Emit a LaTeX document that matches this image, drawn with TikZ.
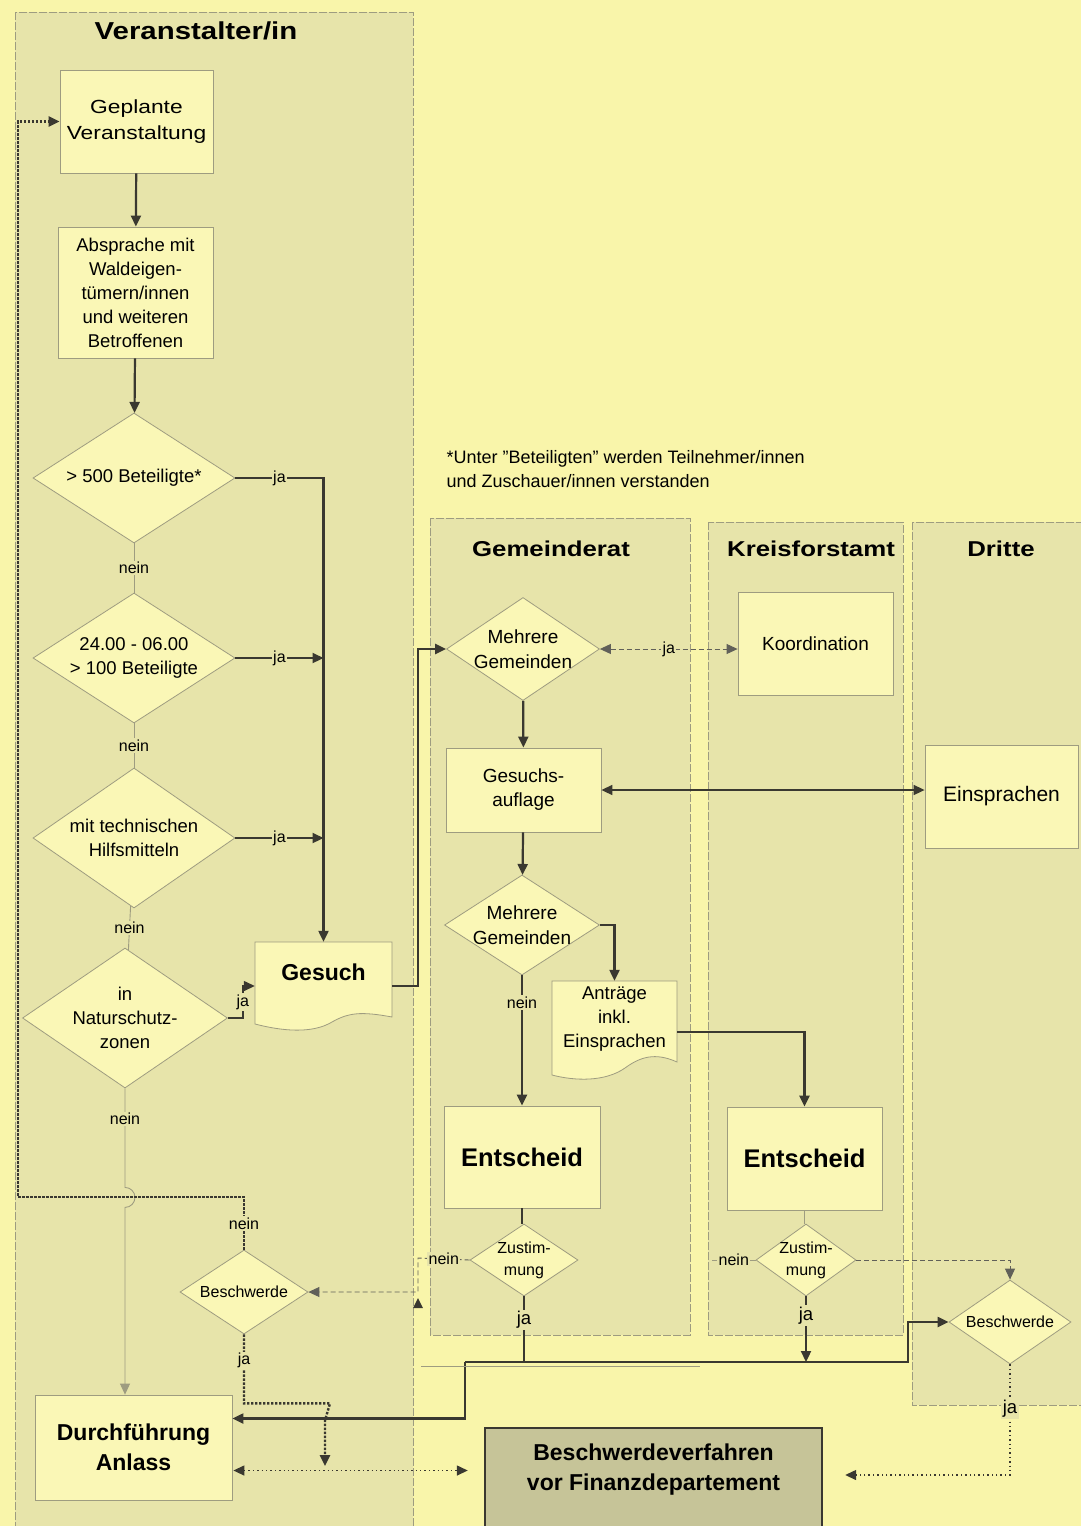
\documentclass[tikz,border=0pt]{standalone}
\usepackage{fontspec}
\setmainfont{Liberation Sans}
\newfontfamily\widesans{Liberation Sans}[FakeStretch=1.2]
\usetikzlibrary{arrows.meta,shapes.geometric,calc}

\definecolor{paper}{RGB}{249,245,170}
\definecolor{lanecol}{RGB}{231,228,170}
\definecolor{boxcol}{RGB}{250,247,182}
\definecolor{ink}{RGB}{58,56,48}
\definecolor{frame}{RGB}{158,156,128}
\definecolor{greybox}{RGB}{198,196,152}

\begin{document}
\begin{tikzpicture}[x=1pt,y=-1pt,
    txt/.style={font=\fontsize{18.5}{24}\selectfont, align=center},
    smalltxt/.style={font=\fontsize{16}{22}\selectfont, align=center},
    boldtxt/.style={font=\fontsize{23}{30}\bfseries\selectfont, align=center},
    lanetitle/.style={font=\widesans\fontsize{21.5}{26}\bfseries\selectfont},
    procbox/.style={rectangle, draw=frame, line width=0.8pt, fill=boxcol, inner sep=0pt, txt},
    decbox/.style={diamond, draw=frame, line width=0.8pt, fill=boxcol, shape aspect=1.5, inner sep=-4pt, txt},
    lane/.style={fill=lanecol, draw=frame, line width=0.7pt, dash pattern=on 8pt off 2pt},
    lbl/.style={smalltxt, fill=lanecol, inner sep=1.5pt},
    arrowend/.style={-{Triangle[length=11pt,width=10pt]}},
    bothends/.style={{Triangle[length=11pt,width=10pt]}-{Triangle[length=11pt,width=10pt]}},
    flow/.style={draw=ink, line width=2.2pt, arrowend},
    thickline/.style={draw=ink, line width=2.2pt},
    midline/.style={draw=ink, line width=1.6pt},
    weak/.style={draw=frame, line width=0.9pt},
    dashline/.style={draw=ink!80, line width=0.9pt, dash pattern=on 5pt off 3pt},
    dotline/.style={draw=ink, line width=2.4pt, dash pattern=on 2.4pt off 1.6pt},
    finedots/.style={draw=ink, line width=1.4pt, dash pattern=on 1.4pt off 3pt},
  ]
  \useasboundingbox (0,0) rectangle (1081,1526);
  \fill[paper] (0,0) rectangle (1081,1526);

  % Lanes
  \foreach \xa/\ya/\xb/\yb in {15/12/413/1540, 430/518/690/1335, 708/522/903/1335, 912/522/1090/1405}
    \draw[lane] (\xa,\ya) rectangle (\xb,\yb);

  % Lane titles
  \node[lanetitle, font=\widesans\fontsize{24.5}{28}\bfseries\selectfont] (tV) at (196,31) {Veranstalter/in};
  \node[lanetitle] (tG) at (551,549) {Gemeinderat};
  \node[lanetitle] (tK) at (811,549) {Kreisforstamt};
  \node[lanetitle] (tD) at (1001,549) {Dritte};

  % Footnote
  \node[anchor=west, align=left, font=\fontsize{18}{24}\selectfont] (note) at (443,469)
    {*Unter "Beteiligten" werden Teilnehmer/innen\\und Zuschauer/innen verstanden};

  % Veranstalter/in
  \node[procbox, minimum width=153pt, minimum height=103pt, font=\widesans\fontsize{19}{26}\selectfont] (geplant) at (136.5,121.5) {Geplante\\Veranstaltung};
  \node[procbox, minimum width=155pt, minimum height=131pt] (absprache) at (135.5,292.5)
    {Absprache mit\\Waldeigen-\\tümern/innen\\und weiteren\\Betroffenen};
  \node[decbox, minimum width=202pt, minimum height=130pt] (d500) at (134,478) {> 500 Beteiligte*};
  \node[decbox, minimum width=202pt, minimum height=130pt] (d100) at (134,658) {24.00 - 06.00\\> 100 Beteiligte};
  \node[decbox, minimum width=202pt, minimum height=140pt] (dtech) at (134,838) {mit technischen\\Hilfsmitteln};
  \node[decbox, minimum width=205pt, minimum height=140pt] (dnatur) at (125,1018) {in\\Naturschutz-\\zonen};

  % Gesuch (document)
  \draw[draw=frame, line width=0.8pt, fill=boxcol] (255,942) -- (392,942) -- (392,1017)
    .. controls (360,1011) and (348,1013) .. (332,1022)
    .. controls (312,1034) and (282,1031) .. (255,1024) -- cycle;
  \node[minimum width=137pt, minimum height=88pt, inner sep=0pt,
    label={[boldtxt, yshift=14pt]center:Gesuch}] (gesuch) at (323.5,986) {};

  \node[procbox, boldtxt, minimum width=197pt, minimum height=105pt] (durch) at (133.5,1447.5) {Durchführung\\Anlass};
  \node[decbox, smalltxt, minimum width=128pt, minimum height=84pt] (beschw1) at (244,1292) {Beschwerde};

  % Gemeinderat
  \node[decbox, font=\fontsize{19}{25}\selectfont, minimum width=153pt, minimum height=103pt] (mg1) at (523,649) {Mehrere\\Gemeinden};
  \node[procbox, font=\fontsize{19}{24}\selectfont, minimum width=155pt, minimum height=84pt] (gauf) at (523.5,790) {Gesuchs-\\auflage};
  \node[decbox, font=\fontsize{19}{25}\selectfont, minimum width=155pt, minimum height=100pt] (mg2) at (522,925) {Mehrere\\Gemeinden};

  % Antraege (document)
  \draw[draw=frame, line width=0.8pt, fill=boxcol] (552,981) -- (677,981) -- (677,1062)
    .. controls (655,1052) and (640,1057) .. (625,1068)
    .. controls (605,1082) and (575,1081) .. (552,1075) -- cycle;
  \node[minimum width=125pt, minimum height=102pt, inner sep=0pt,
    label={[txt, yshift=13pt]center:{Anträge\\inkl.\\Einsprachen}}] (antr) at (614.5,1032) {};

  \node[procbox, font=\fontsize{25.5}{30}\bfseries\selectfont, minimum width=156pt, minimum height=102pt] (entsch1) at (522,1157) {Entscheid};
  \node[decbox, smalltxt, minimum width=108pt, minimum height=72pt] (zust1) at (524,1260) {Zustim-\\mung};

  % Kreisforstamt
  \node[procbox, font=\fontsize{19}{24}\selectfont, minimum width=155pt, minimum height=103pt] (koord) at (815.5,643.5) {Koordination};
  \node[procbox, font=\fontsize{25.5}{30}\bfseries\selectfont, minimum width=155pt, minimum height=103pt] (entsch2) at (804.5,1158.5) {Entscheid};
  \node[decbox, smalltxt, minimum width=100pt, minimum height=72pt] (zust2) at (806,1260) {Zustim-\\mung};

  % Dritte
  \node[procbox, font=\fontsize{21}{24}\selectfont, minimum width=153pt, minimum height=103pt] (einspr) at (1001.5,796.5) {Einsprachen};
  \node[decbox, smalltxt, minimum width=122pt, minimum height=84pt] (beschw2) at (1010,1322) {Beschwerde};

  % Beschwerdeverfahren
  \node[rectangle, fill=greybox, draw=ink, line width=2.4pt, minimum width=337pt, minimum height=110pt, inner sep=0pt,
    label={[boldtxt, yshift=13pt]center:{Beschwerdeverfahren\\vor Finanzdepartement}}] (verf) at (653.5,1483) {};

  % Connectors Veranstalter/in
  \draw[flow] (geplant) -- (absprache);
  \draw[flow] (absprache) -- (d500);
  \draw[weak] (d500) -- node[lbl]{nein} (d100);
  \draw[weak] (d100) -- node[lbl]{nein} (dtech);
  \draw[weak] (dtech) -- node[lbl]{nein} (dnatur);
  \draw[weak, arrowend] (dnatur.south) -- node[lbl, pos=0.31]{nein} ++(0,99)
    arc[start angle=90, end angle=-90, radius=10pt] -- (dnatur.south |- durch.north);

  \draw[flow] (d500.east) -- node[lbl]{ja} (d500.east -| gesuch.north) -- (gesuch.north);
  \draw[flow] (d100.east) -- node[lbl]{ja} (d100.east -| gesuch.north);
  \draw[flow] (dtech.east) -- node[lbl]{ja} (dtech.east -| gesuch.north);
  \draw[flow, line width=1.4pt] (dnatur.east) -| node[lbl, pos=0.75]{ja} ([xshift=-12pt]gesuch.west) -- (gesuch.west);
  \draw[flow] (gesuch.east) -| ([xshift=-28pt]mg1.west) -- (mg1.west);

  % Connectors Gemeinderat / Kreisforstamt / Dritte
  \draw[dashline, bothends] (mg1.east) -- node[lbl]{ja} (koord.west |- mg1.east);
  \draw[flow] (mg1) -- (gauf);
  \draw[midline, bothends] (gauf.east) -- (gauf.east -| einspr.west);
  \draw[flow] (gauf) -- (mg2);
  \draw[flow] (mg2) -- node[lbl, pos=0.21]{nein} (entsch1);
  \draw[flow] (mg2.east) -| (antr.north);
  \draw[flow] (antr.east) -| (entsch2.north);
  \draw[thickline] (entsch1.south) -- (entsch1.south |- zust1.north);
  \draw[weak] (entsch2.south) -- (entsch2.south |- zust2.north);

  % nein branches
  \coordinate (nbend) at (418,1258);
  \coordinate (nend2) at (712,1260);
  \draw[dashline, arrowend] (zust1.west) -- node[lbl]{nein} (nbend) |- (beschw1.east);
  \fill[ink] (413,1308) -- (423,1308) -- (418,1298) -- cycle;
  \draw[weak] (zust2.west) -- node[lbl]{nein} (nend2);
  \draw[dashline, arrowend] (zust2.east) -| (beschw2.north);

  % ja branches
  \coordinate (busL) at (465,1362);
  \coordinate (busR) at (908,1362);
  \draw[thickline] (zust1.south) -- node[lbl, txt, pos=0.36]{ja} (zust1.south |- busL);
  \draw[flow] (zust2.south) -- node[lbl, txt, pos=0.29]{ja} (zust2.south |- busL);
  \draw[flow] (busL) -- (busR) |- (beschw2.west);
  \draw[flow] (busL) |- ([yshift=29pt]durch.east);
  \draw[weak] (421,1366) -- (700,1366);

  % Beschwerde (Veranstalter/in)
  \coordinate (loopA) at (244,1197);
  \coordinate (loopB) at (18,1197);
  \coordinate (jaEnd) at (325,1466);
  \draw[dotline, arrowend] (beschw1.north) -- node[lbl]{nein} (loopA) -- (loopB) |- (geplant.west);
  \draw[dotline, arrowend] (beschw1.south) -- node[lbl, pos=0.38]{ja} ++(0,69) -- ++(86,0) -- ++(-5,17) -- (jaEnd);
  \draw[finedots, bothends, shorten >=16pt, shorten <=1pt] ([yshift=-23pt]durch.east) -- ([yshift=-23pt]durch.east -| verf.west);

  % Beschwerde (Dritte)
  \draw[finedots, arrowend] (beschw2.south) |- node[lbl, txt, pos=0.2]{ja} ([xshift=22pt, yshift=8pt]verf.east);
\end{tikzpicture}
\end{document}
